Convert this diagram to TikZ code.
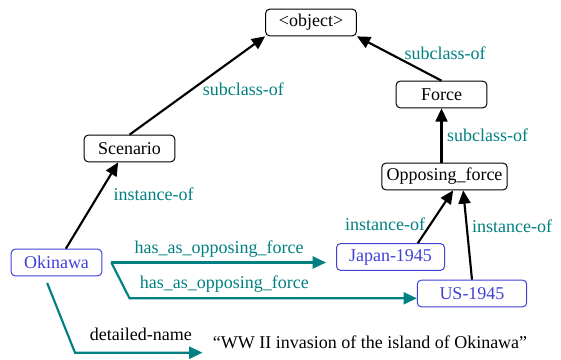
\documentclass[tikz,border=0pt]{standalone}
\usepackage{fontspec}
\setmainfont{Liberation Serif}
\usetikzlibrary{arrows.meta}
\tikzset{
    class box/.style={
        draw=black, line width=0.75pt, rounded corners=3pt,
        minimum width=68pt, minimum height=20pt, inner xsep=3.5pt, inner ysep=2pt
    },
    instance box/.style={
        class box, draw=InstanceBlue, text=InstanceBlue
    },
    isa arrow/.style={
        line width=1.6pt, -{Triangle[length=10pt,width=9pt]}
    },
    relation arrow/.style={
        isa arrow, draw=RelationTeal
    },
    relation label/.style={text=RelationTeal},
}
\definecolor{RelationTeal}{RGB}{0,128,128}
\definecolor{InstanceBlue}{RGB}{64,64,215}

\begin{document}
\begin{tikzpicture}[x=0.75pt, y=-0.75pt, font=\fontsize{13.5}{16}\selectfont]

    \useasboundingbox (0,0) rectangle (561,360);

    \node[class box] (object) at (311,22.5) {<object>};
    \node[class box] (Force) at (441.5,94.5) {Force};
    \node[class box] (Scenario) at (129.5,148.5) {Scenario};
    \node[class box] (Opp) at (444.5,176.5) {Opposing\_force};

    \node[instance box] (Okinawa) at (56.5,262.5) {Okinawa};
    \node[instance box, minimum width=81pt] (Japan) at (390.5,257) {Japan-1945};
    \node[instance box, minimum width=82pt] (US) at (472,293.5) {US-1945};
    \node[inner sep=4.5pt] (str) at (370,342) {“WW II invasion of the island of Okinawa”};

    \coordinate (usbend) at (129.5,298.3);
    \coordinate (namebend) at (75,352.7);

    \draw[isa arrow] (Scenario.north) -- node[relation label, anchor=west, yshift=-3pt] {subclass-of} (object.south west);
    \draw[isa arrow] (Force.north) -- node[relation label, anchor=west, yshift=4pt] {subclass-of} (object.south east);
    \draw[isa arrow] (Force.south |- Opp.north) -- node[relation label, anchor=west] {subclass-of} (Force.south);

    \draw[isa arrow] ([xshift=7pt]Okinawa.north) -- node[relation label, pos=0.63, anchor=west, xshift=7pt] {instance-of} ([xshift=-8.5pt]Scenario.south);
    \draw[isa arrow] ([xshift=20.5pt]Japan.north) -- node[relation label, pos=0.36, anchor=east] {instance-of} ([xshift=6.5pt]Opp.south);
    \draw[isa arrow] (US.north) -- node[relation label, pos=0.6, anchor=west] {instance-of} ([xshift=14pt]Opp.south);

    \draw[relation arrow, shorten <=6.75pt, shorten >=7.5pt] (Okinawa.east) -- node[relation label, above] {has\_as\_opposing\_force} (Okinawa.east -| Japan.west);
    \draw[relation arrow] ([xshift=6.75pt]Okinawa.east) -- (usbend) -- node[relation label, pos=0.33, above] {has\_as\_opposing\_force} (usbend -| US.west);
    \draw[relation arrow, shorten >=3pt] ([xshift=-7pt,yshift=-5pt]Okinawa.south) -- (namebend) -- node[midway, above=5pt] {detailed-name} (namebend -| str.west);

\end{tikzpicture}
\end{document}
